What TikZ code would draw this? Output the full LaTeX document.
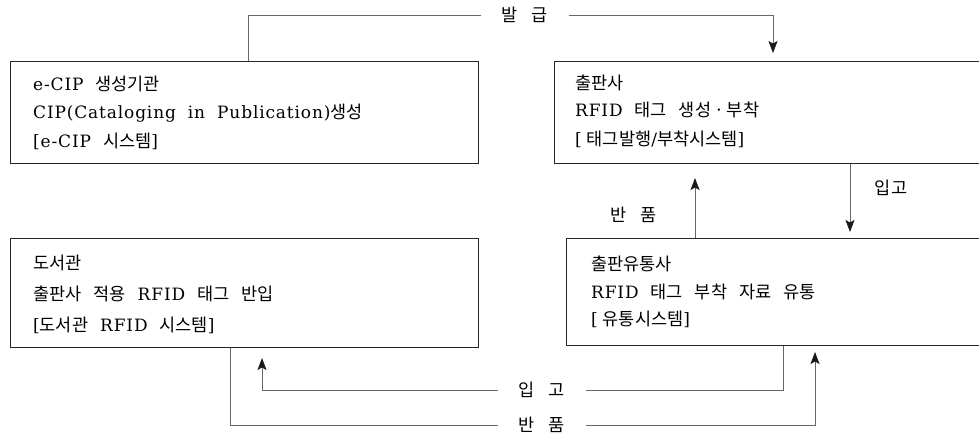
\documentclass[tikz,border=0pt]{standalone}
\usepackage{fontspec}
\setmainfont{DejaVu Serif}[LetterSpace=5]
\newfontfamily\kr{Noto Sans CJK KR}[Scale=1.03]
\newcommand\txtfontsel{\fontsize{17}{20}\selectfont\spaceskip=12pt\relax}
\newcommand\lblfontsel{\fontsize{17}{20}\selectfont\kr\spaceskip=14pt\relax}
\newcommand\mdot{\hspace{3pt}·\hspace{3pt}}
\usetikzlibrary{arrows.meta}
\begin{document}
\begin{tikzpicture}[x=1pt,y=-1pt,
  box/.style={draw=black!85, line width=0.9pt, inner sep=0pt, anchor=north west},
  txt/.style={anchor=base west, inner sep=0pt, font={\txtfontsel}},
  lblp/.style={inner sep=0pt, font={\lblfontsel}},
  lbl/.style={lblp, fill=white, inner xsep=21pt, inner ysep=3pt},
  conn/.style={draw=black!60, line width=0.8pt},
  arr/.style={conn, -{Stealth[length=12pt,width=9pt,inset=2.5pt,color=black!90]}}]
\useasboundingbox (0,0) rectangle (979,441);
\clip (0,0) rectangle (979,441);
% boxes
\node[box, minimum width=468pt, minimum height=102pt] (ecip) at (10,61) {};
\node[box, minimum width=440pt, minimum height=102pt] (pub) at (554,61) {};
\node[box, minimum width=468pt, minimum height=109pt] (lib) at (10,238) {};
\node[box, minimum width=430pt, minimum height=107pt] (dist) at (566,238) {};
% texts
\node[txt] (e1) at (33,91) {e-CIP {\kr 생성기관}};
\node[txt] (e2) at (33,119) {CIP(Cataloging in Publication){\kr 생성}};
\node[txt] (e3) at (33,147) {[e-CIP {\kr 시스템}]};
\node[txt] (p1) at (575,90) {\kr 출판사};
\node[txt] (p2) at (575,117) {RFID {\kr 태그 생성\mdot 부착}};
\node[txt] (p3) at (575,145) {[\hspace{5pt}{\kr 태그발행}/{\kr 부착시스템}]};
\node[txt] (l1) at (33,269) {\kr 도서관};
\node[txt] (l2) at (33,300) {{\kr 출판사 적용} RFID {\kr 태그 반입}};
\node[txt] (l3) at (33,331) {[{\kr 도서관} RFID {\kr 시스템}]};
\node[txt] (d1) at (591,270) {\kr 출판유통사};
\node[txt] (d2) at (591,298) {RFID {\kr 태그 부착 자료 유통}};
\node[txt] (d3) at (591,325) {[\hspace{5pt}{\kr 유통시스템}]};
% connector coordinates
\coordinate (k1) at (248,15);
\coordinate (k2) at (773,15);
\coordinate (k3) at (773,53);
\coordinate (k4) at (850,232);
\coordinate (k5) at (695,178);
\coordinate (k6) at (783,390);
\coordinate (k7) at (262,390);
\coordinate (k8) at (262,358);
\coordinate (k9) at (230,425);
\coordinate (k10) at (815,425);
\coordinate (k11) at (815,352);
% connectors
\draw[arr] (ecip.north -| k1) -- (k1) -- (k2) -- (k3);
\draw[arr] (pub.south -| k4) -- (k4);
\draw[arr] (dist.north -| k5) -- (k5);
\draw[arr] (dist.south -| k6) -- (k6) -- (k7) -- (k8);
\draw[arr] (lib.south -| k9) -- (k9) -- (k10) -- (k11);
% labels
\node[lbl] (b1) at (525,15) {발 급};
\node[lblp] (b2) at (891,188) {입고};
\node[lblp] (b3) at (634,215) {반 품};
\node[lbl] (b4) at (542,390) {입 고};
\node[lbl] (b5) at (542,425) {반 품};
\end{tikzpicture}
\end{document}
